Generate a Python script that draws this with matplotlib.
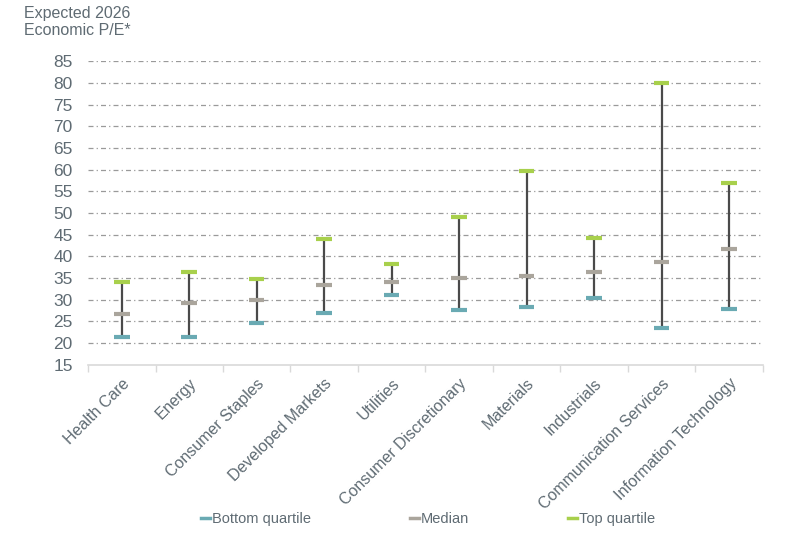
import matplotlib
matplotlib.use("Agg")
import matplotlib.pyplot as plt
from matplotlib.lines import Line2D

plt.rcParams['font.family'] = ['Liberation Sans', 'DejaVu Sans']

categories = ["Health Care", "Energy", "Consumer Staples", "Developed Markets",
              "Utilities", "Consumer Discretionary", "Materials", "Industrials",
              "Communication Services", "Information Technology"]
bottom_quartile = [21.3, 21.5, 24.7, 27.0, 31.1, 27.7, 28.3, 30.3, 23.4, 27.9]
median = [26.8, 29.3, 30.0, 33.5, 34.2, 35.1, 35.5, 36.3, 38.6, 41.7]
top_quartile = [34.0, 36.4, 34.7, 43.9, 38.3, 49.1, 59.7, 44.2, 80.0, 56.9]
y_ticks = list(range(15, 90, 5))

text_col = "#5f6b73"
c_bottom = "#6aaab3"
c_median = "#aaa59c"
c_top = "#a8d04c"
c_line = "#4a4a4a"

fig = plt.figure(figsize=(7.93, 5.38), dpi=100)
ax = fig.add_axes([0.111, 0.322, 0.851, 0.564])

x = list(range(len(categories)))
hw = 0.115
ax.vlines(x, bottom_quartile, top_quartile, color=c_line, lw=1.6, zorder=3)
for xi, b, m, t in zip(x, bottom_quartile, median, top_quartile):
    ax.hlines(b, xi - hw, xi + hw, color=c_bottom, lw=3, zorder=4)
    ax.hlines(m, xi - hw, xi + hw, color=c_median, lw=3, zorder=4)
    ax.hlines(t, xi - hw, xi + hw, color=c_top, lw=3, zorder=4)

ax.set_xlim(-0.5, len(categories) - 0.5)
ax.set_ylim(15, 85)
ax.set_yticks(y_ticks)
ax.set_yticklabels([str(v) for v in y_ticks], fontsize=12.5, color=text_col)
for v in y_ticks[1:]:
    ax.axhline(v, color="#9a9a9a", lw=0.9, ls=(0, (4, 2.5, 1, 2.5)), zorder=1)

ax.set_xticks(x)
ax.set_xticklabels(categories, rotation=45, ha='right', rotation_mode='anchor',
                   fontsize=11.5, color=text_col)
ax.tick_params(axis='x', length=0, pad=8)
ax.tick_params(axis='y', length=0, pad=11)
ax.set_xticks([i - 0.5 for i in range(len(categories) + 1)], minor=True)
ax.tick_params(axis='x', which='minor', length=5, color="#d9d9d9", width=1)

for s in ['top', 'right', 'left']:
    ax.spines[s].set_visible(False)
ax.spines['bottom'].set_color("#d9d9d9")
ax.spines['bottom'].set_linewidth(1.2)

fig.text(0.03, 0.988, "Expected 2026\nEconomic P/E*", fontsize=11.5, color=text_col,
         va='top', ha='left', linespacing=1.15)

handles = [Line2D([0], [0], color=c_bottom, lw=2.5),
           Line2D([0], [0], color=c_median, lw=2.5),
           Line2D([0], [0], color=c_top, lw=2.5)]
leg = fig.legend(handles, ["Bottom quartile", "Median", "Top quartile"],
                 loc='center', bbox_to_anchor=(0.54, 0.035), ncol=3, frameon=False,
                 fontsize=10.5, handlelength=0.6, handletextpad=0.15,
                 columnspacing=6.8)
for t in leg.get_texts():
    t.set_color(text_col)

fig.savefig("out.png", dpi=100)
